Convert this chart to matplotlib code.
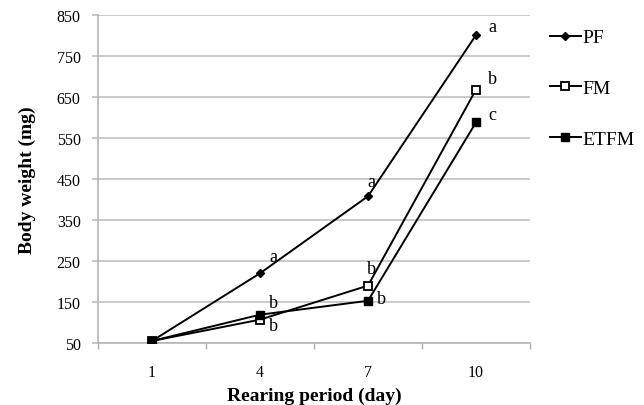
import matplotlib
matplotlib.use("Agg")
import matplotlib.pyplot as plt

days = ["1", "4", "7", "10"]
pf = [55, 220, 408, 801]
fm = [55, 107, 190, 668]
etfm = [55, 119, 153, 588]
pf_letters = ["", "a", "a", "a"]
fm_letters = ["", "b", "b", "b"]
etfm_letters = ["", "b", "b", "c"]
yticks = [50, 150, 250, 350, 450, 550, 650, 750, 850]

plt.rcParams['font.family'] = ['Liberation Serif', 'DejaVu Serif']

fig = plt.figure(figsize=(6.44, 4.06), dpi=100)
ax = fig.add_axes([98/644, 62/406, 432/644, 328/406])
x = list(range(len(days)))

l1, = ax.plot(x, pf, color='black', lw=1.4, marker='D', ms=4.5, label='PF', zorder=3)
l2, = ax.plot(x, fm, color='black', lw=1.4, marker='s', ms=5.2, mfc='white', mew=1.3, label='FM', zorder=3)
l3, = ax.plot(x, etfm, color='black', lw=1.4, marker='s', ms=5.5, label='ETFM', zorder=3)

# label offsets in pixels (dx right, dy up) from the point, letter centred
pf_off = [None, (13, 17), (3, 15), (16, 9)]
fm_off = [None, (13, -6), (3, 17), (16, 11)]
etfm_off = [None, (13, 12), (13, 2), (16, 8)]
for vals, lets, offs in [(pf, pf_letters, pf_off), (fm, fm_letters, fm_off), (etfm, etfm_letters, etfm_off)]:
    for i, (v, t) in enumerate(zip(vals, lets)):
        if t:
            ax.annotate(t, (i, v), xytext=(offs[i][0] * 0.72, offs[i][1] * 0.72),
                        textcoords='offset points', fontsize=13,
                        ha='center', va='center', zorder=4)

ax.set_xlim(-0.5, 3.5)
ax.set_ylim(50, 850)
ax.set_yticks(yticks)
ax.set_xticks(x)
ax.set_xticklabels(days)
ax.set_xticks([-0.5, 0.5, 1.5, 2.5, 3.5], minor=True)
ax.tick_params(axis='x', which='major', length=0, pad=15, labelsize=11.5)
ax.tick_params(axis='x', which='minor', length=4, color='#b0b0b0', width=1)
ax.tick_params(axis='y', length=4.5, color='#b8b8b8', width=1.1, pad=8, labelsize=11.5)
ax.yaxis.grid(True, color='#bcbcbc', lw=1.1)
ax.set_axisbelow(True)
for s in ['top', 'right']:
    ax.spines[s].set_visible(False)
for s in ['left', 'bottom']:
    ax.spines[s].set_color('#b0b0b0')
    ax.spines[s].set_linewidth(1.1)

ax.set_xlabel('Rearing period (day)', fontsize=14, fontweight='bold', labelpad=5)
ax.set_ylabel('Body weight (mg)', fontsize=14, fontweight='bold', labelpad=15)

fig.legend(handles=[l1, l2, l3], loc='upper left', bbox_to_anchor=(542/644, 1 - 22/406),
           frameon=False, fontsize=14, handlelength=1.6, handletextpad=0.1,
           labelspacing=1.7, borderaxespad=0)

fig.savefig('out.png', dpi=100)
